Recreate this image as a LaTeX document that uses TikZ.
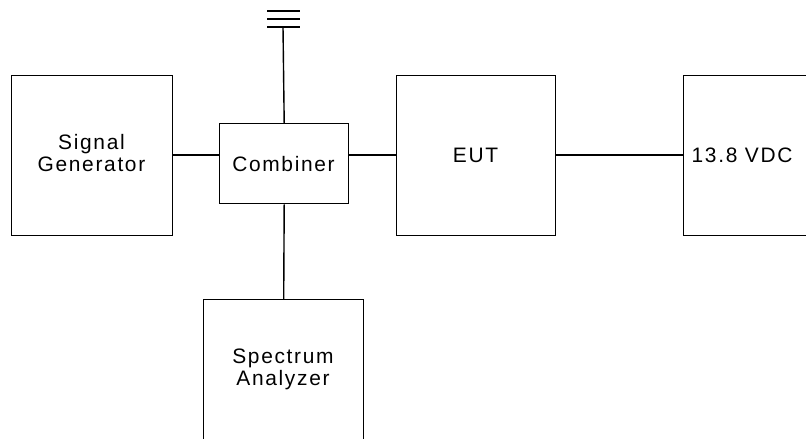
\documentclass[tikz,border=0pt]{standalone}
\usepackage{fontspec}
\setmainfont{Liberation Sans}[LetterSpace=8]
\begin{document}
\begin{tikzpicture}[x=1bp,y=-1bp,line width=1.4bp,
  blk/.style={draw,rectangle,inner sep=0pt,anchor=north west},
  lbl/.style={font=\fontsize{21}{22}\selectfont,align=center,inner sep=0pt}]
\useasboundingbox (0,0) rectangle (806,439);
\clip (0,0) rectangle (806,439);
\node[blk,minimum width=161bp,minimum height=160bp] (sg) at (11,75) {};
\node[blk,minimum width=129bp,minimum height=80bp] (comb) at (219,123) {};
\node[blk,minimum width=159bp,minimum height=160bp] (eut) at (396,75) {};
\node[blk,minimum width=160bp,minimum height=160bp] (vdc) at (683,75) {};
\node[blk,minimum width=160bp,minimum height=170bp] (spec) at (203,299) {};
\node[lbl] (sgt) at (91.5,153) {Signal\\Generator};
\node[lbl] (combt) at (283.5,164) {Combiner};
\node[lbl] (eutt) at (475.5,155) {EUT};
\node[lbl,anchor=west] (vdct) at (691,155) {13.8 VDC};
\node[lbl] (spect) at (283,369) {Spectrum\\Analyzer};
\coordinate (ly) at (0,155);
\coordinate (g1) at (283,27);
\draw (sg.east |- ly) -- (comb.west |- ly);
\draw (comb.east |- ly) -- (eut.west |- ly);
\draw (eut.east |- ly) -- (vdc.west |- ly);
\draw (comb.south) -- (spec.north);
\draw (comb.north) -- (g1);
\draw ([xshift=-16bp]g1) -- ([xshift=17bp]g1);
\draw ([xshift=-16bp,yshift=8bp]g1) -- ([xshift=17bp,yshift=8bp]g1);
\draw ([xshift=-16bp,yshift=16bp]g1) -- ([xshift=17bp,yshift=16bp]g1);
\end{tikzpicture}
\end{document}
